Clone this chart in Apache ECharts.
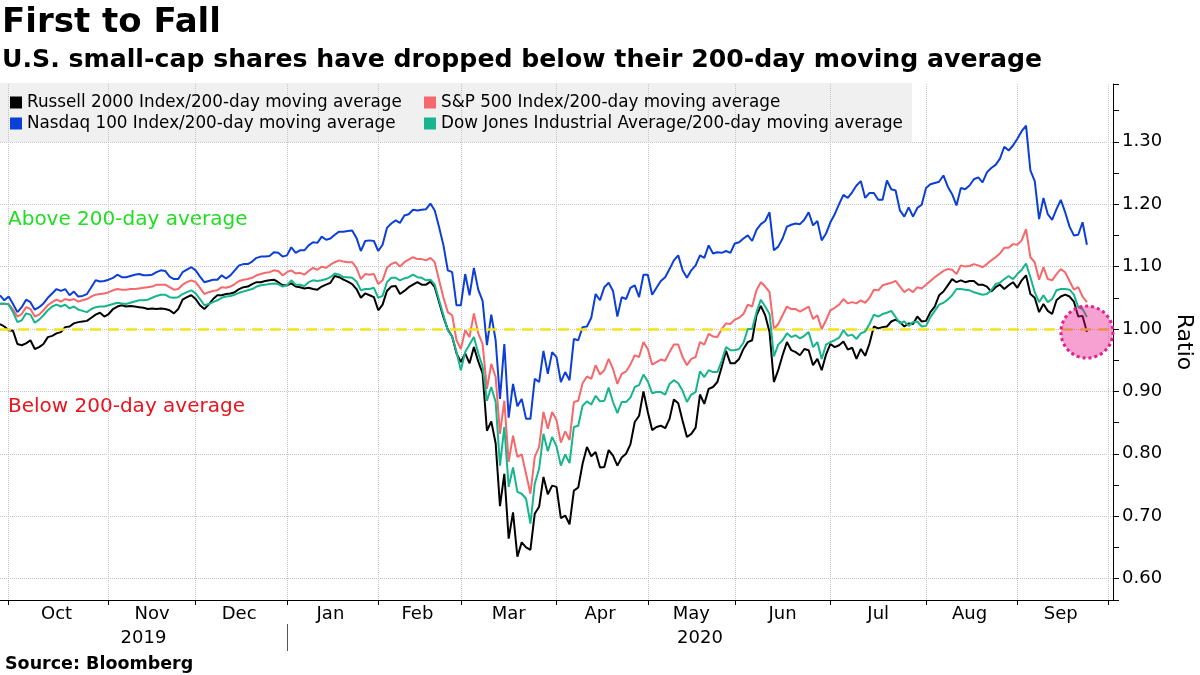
<!DOCTYPE html>
<html><head><meta charset="utf-8">
<script src="https://cdn.jsdelivr.net/npm/echarts@6/dist/echarts.min.js"></script>
<style>html,body{margin:0;padding:0;background:#fff}#c{width:1200px;height:675px}</style>
</head><body><div id="c"></div>
<script>
// ---- axis / calendar data ----
const startDate = '2019-09-27';
const endDate = '2020-10-02';
const holidays = ['2019-11-28','2019-12-25','2020-01-01','2020-01-20','2020-02-17','2020-04-10','2020-05-25','2020-07-03','2020-09-07'];
const monthNames = ['Jan','Feb','Mar','Apr','May','Jun','Jul','Aug','Sep','Oct','Nov','Dec'];
const yTickLabels = ['0.60','0.70','0.80','0.90','1.00','1.10','1.20','1.30'];
const threshold = 1.0;

// ---- series values (ratio of index to its 200-day moving average), one per trading day from 2019-09-27 ----
const russell = [
1.008,1.004,0.998,0.997,0.976,0.974,0.977,0.982,0.968,0.971,
0.976,0.987,0.989,0.993,0.995,1.003,1.004,1.009,1.011,1.012,
1.013,1.018,1.023,1.026,1.020,1.024,1.032,1.036,1.038,1.036,
1.037,1.036,1.035,1.034,1.032,1.033,1.032,1.033,1.032,1.030,
1.025,1.032,1.047,1.051,1.054,1.048,1.038,1.032,1.039,1.048,
1.054,1.054,1.056,1.057,1.059,1.064,1.067,1.068,1.072,1.075,
1.075,1.077,1.078,1.079,1.075,1.070,1.070,1.073,1.068,1.067,
1.065,1.066,1.064,1.063,1.068,1.071,1.074,1.085,1.083,1.079,
1.076,1.072,1.064,1.050,1.057,1.054,1.051,1.030,1.039,1.061,
1.068,1.069,1.056,1.061,1.067,1.071,1.075,1.071,1.071,1.076,
1.067,1.043,1.019,0.999,0.988,0.961,0.947,0.961,0.945,0.971,
0.948,0.929,0.837,0.852,0.817,0.716,0.768,0.664,0.706,0.635,
0.658,0.650,0.646,0.704,0.715,0.763,0.735,0.749,0.747,0.697,
0.701,0.687,0.741,0.746,0.784,0.811,0.796,0.803,0.778,0.779,
0.806,0.797,0.781,0.794,0.800,0.815,0.851,0.861,0.900,0.867,
0.838,0.843,0.845,0.841,0.856,0.887,0.881,0.853,0.827,0.832,
0.842,0.895,0.880,0.904,0.907,0.915,0.939,0.965,0.945,0.945,
0.952,0.968,0.979,0.982,1.022,1.037,1.022,0.995,0.915,0.934,
0.958,0.979,0.966,0.963,0.958,0.968,0.966,0.942,0.952,0.934,
0.959,0.976,0.971,0.974,0.980,0.967,0.970,0.952,0.968,0.957,
0.977,1.004,1.001,1.003,1.004,1.012,1.015,1.011,1.004,1.009,
1.008,1.020,1.012,1.013,1.027,1.036,1.054,1.060,1.070,1.080,
1.075,1.078,1.075,1.077,1.077,1.071,1.071,1.068,1.060,1.067,
1.071,1.064,1.070,1.075,1.066,1.078,1.086,1.056,1.050,1.027,
1.040,1.029,1.024,1.046,1.052,1.055,1.052,1.044,1.020,1.021,0.995];

const sp500 = [
1.041,1.040,1.040,1.031,1.020,1.024,1.035,1.032,1.020,1.023,
1.030,1.038,1.043,1.047,1.044,1.048,1.046,1.048,1.044,1.046,
1.048,1.052,1.055,1.056,1.057,1.059,1.062,1.064,1.063,1.063,
1.064,1.064,1.065,1.066,1.067,1.068,1.071,1.071,1.071,1.067,
1.063,1.064,1.071,1.075,1.078,1.075,1.066,1.056,1.059,1.061,
1.062,1.067,1.066,1.068,1.072,1.077,1.079,1.080,1.082,1.086,
1.088,1.090,1.091,1.094,1.093,1.086,1.091,1.094,1.089,1.090,
1.087,1.093,1.098,1.095,1.100,1.098,1.103,1.107,1.110,1.108,
1.107,1.107,1.098,1.080,1.088,1.087,1.088,1.072,1.078,1.098,
1.104,1.107,1.100,1.107,1.111,1.115,1.112,1.112,1.110,1.114,
1.107,1.078,1.050,1.027,1.022,0.982,0.968,0.998,0.987,1.025,
0.993,0.976,0.904,0.944,0.923,0.832,0.885,0.787,0.829,0.795,
0.799,0.768,0.736,0.795,0.811,0.867,0.840,0.867,0.854,0.818,
0.836,0.822,0.883,0.885,0.913,0.924,0.920,0.942,0.927,0.934,
0.952,0.936,0.912,0.928,0.932,0.943,0.958,0.955,0.979,0.968,
0.943,0.947,0.951,0.949,0.963,0.975,0.975,0.955,0.942,0.952,
0.955,0.979,0.975,0.992,0.988,0.987,1.000,1.009,1.008,1.015,
1.018,1.024,1.039,1.036,1.062,1.075,1.068,1.059,1.000,1.008,
1.022,1.036,1.032,1.032,1.028,1.032,1.036,1.016,1.022,1.000,
1.014,1.030,1.034,1.039,1.048,1.041,1.043,1.041,1.046,1.042,
1.050,1.063,1.062,1.070,1.072,1.074,1.077,1.068,1.059,1.064,
1.059,1.067,1.065,1.071,1.077,1.083,1.088,1.093,1.096,1.095,
1.088,1.102,1.100,1.101,1.104,1.102,1.099,1.104,1.110,1.115,
1.121,1.130,1.130,1.136,1.135,1.142,1.160,1.115,1.107,1.079,
1.099,1.080,1.078,1.088,1.096,1.091,1.077,1.063,1.067,1.052,1.043];

const nasdaq100 = [
1.054,1.046,1.052,1.040,1.027,1.035,1.047,1.043,1.031,1.035,
1.041,1.050,1.057,1.064,1.061,1.064,1.054,1.060,1.052,1.053,
1.056,1.067,1.078,1.076,1.077,1.079,1.082,1.087,1.083,1.083,
1.085,1.087,1.088,1.086,1.086,1.087,1.091,1.094,1.093,1.084,
1.080,1.080,1.091,1.095,1.099,1.094,1.084,1.075,1.077,1.079,
1.079,1.086,1.081,1.086,1.094,1.102,1.104,1.104,1.108,1.114,
1.116,1.116,1.117,1.123,1.122,1.116,1.118,1.131,1.122,1.126,
1.126,1.134,1.139,1.138,1.148,1.143,1.145,1.151,1.156,1.156,
1.157,1.158,1.146,1.125,1.141,1.142,1.141,1.125,1.135,1.162,
1.169,1.174,1.170,1.182,1.184,1.191,1.190,1.191,1.192,1.201,
1.190,1.163,1.134,1.094,1.091,1.038,1.038,1.088,1.054,1.098,
1.063,1.045,0.974,1.023,0.982,0.888,0.976,0.858,0.912,0.876,
0.888,0.856,0.856,0.920,0.915,0.965,0.928,0.963,0.955,0.915,
0.931,0.918,0.984,0.982,1.003,1.004,1.018,1.056,1.046,1.067,
1.074,1.061,1.020,1.051,1.048,1.066,1.070,1.051,1.087,1.087,
1.055,1.066,1.077,1.083,1.096,1.110,1.118,1.094,1.082,1.094,
1.102,1.118,1.114,1.134,1.121,1.123,1.122,1.125,1.122,1.137,
1.139,1.145,1.150,1.141,1.159,1.168,1.173,1.187,1.126,1.132,
1.145,1.164,1.167,1.169,1.168,1.175,1.187,1.166,1.173,1.142,
1.153,1.171,1.184,1.200,1.215,1.210,1.219,1.230,1.237,1.210,
1.218,1.218,1.207,1.207,1.238,1.224,1.222,1.190,1.180,1.195,
1.180,1.194,1.199,1.226,1.232,1.234,1.236,1.246,1.228,1.216,
1.198,1.226,1.224,1.230,1.240,1.243,1.235,1.251,1.258,1.263,
1.273,1.292,1.286,1.294,1.305,1.317,1.326,1.254,1.237,1.176,
1.210,1.184,1.175,1.192,1.207,1.187,1.164,1.150,1.151,1.171,1.135];

const dow = [
1.040,1.041,1.039,1.027,1.011,1.014,1.025,1.023,1.010,1.015,
1.022,1.030,1.036,1.039,1.036,1.039,1.033,1.036,1.031,1.029,
1.027,1.032,1.035,1.036,1.036,1.038,1.040,1.042,1.041,1.040,
1.042,1.044,1.046,1.046,1.047,1.050,1.053,1.055,1.055,1.051,
1.050,1.051,1.056,1.059,1.062,1.057,1.048,1.038,1.040,1.043,
1.046,1.050,1.052,1.053,1.055,1.058,1.060,1.062,1.064,1.068,
1.070,1.071,1.072,1.073,1.072,1.068,1.070,1.078,1.071,1.071,
1.069,1.075,1.078,1.077,1.078,1.080,1.083,1.089,1.087,1.083,
1.083,1.082,1.076,1.062,1.064,1.064,1.066,1.050,1.053,1.075,
1.082,1.082,1.078,1.081,1.083,1.087,1.083,1.082,1.078,1.079,
1.071,1.046,1.022,0.998,0.988,0.963,0.934,0.963,0.975,0.987,
0.961,0.940,0.885,0.907,0.883,0.781,0.843,0.747,0.778,0.739,
0.736,0.728,0.688,0.752,0.776,0.832,0.804,0.827,0.812,0.781,
0.799,0.785,0.843,0.845,0.877,0.884,0.879,0.893,0.884,0.885,
0.906,0.883,0.865,0.883,0.883,0.890,0.907,0.910,0.927,0.916,
0.897,0.899,0.899,0.895,0.912,0.918,0.913,0.901,0.883,0.895,
0.899,0.932,0.923,0.934,0.931,0.931,0.949,0.971,0.966,0.966,
0.968,0.978,1.000,1.000,1.027,1.047,1.036,1.024,0.956,0.975,
0.982,0.993,0.987,0.990,0.985,0.989,0.995,0.971,0.979,0.952,
0.975,0.979,0.982,0.986,0.998,0.989,0.991,0.984,0.993,0.996,
1.008,1.023,1.020,1.024,1.026,1.029,1.019,1.009,1.012,1.005,
1.011,1.012,1.004,1.005,1.019,1.029,1.039,1.042,1.047,1.054,
1.064,1.064,1.063,1.062,1.059,1.057,1.055,1.056,1.062,1.072,
1.074,1.080,1.085,1.080,1.088,1.095,1.105,1.083,1.059,1.043,
1.054,1.043,1.048,1.062,1.064,1.064,1.063,1.055,1.035,1.032,1.019];

const seriesNames = ['Russell 2000 Index/200-day moving average','S&P 500 Index/200-day moving average','Nasdaq 100 Index/200-day moving average','Dow Jones Industrial Average/200-day moving average'];
const seriesColors = ['#000000','#f5686b','#0b3fd6','#17b58c'];

// ---- trading-day categories ----
const dates = [];
for (let d = new Date(startDate + 'T00:00:00Z'); d <= new Date(endDate + 'T00:00:00Z'); d.setUTCDate(d.getUTCDate() + 1)) {
  const wd = d.getUTCDay();
  const s = d.toISOString().slice(0, 10);
  if (wd === 0 || wd === 6 || holidays.includes(s)) continue;
  dates.push(s);
}
const monthStart = new Set();
const groups = [];
dates.forEach((s, i) => {
  const key = s.slice(0, 7);
  if (i > 0 && key !== dates[i - 1].slice(0, 7)) monthStart.add(i);
  if (!groups.length || groups[groups.length - 1].key !== key) groups.push({ key, first: i, len: 0 });
  groups[groups.length - 1].len++;
});
const monthLabelIdx = new Set(groups.filter(g => g.len >= 15).map(g => g.first + Math.floor(g.len / 2)));
const yearGroups = [];
dates.forEach((s, i) => {
  const y = s.slice(0, 4);
  if (!yearGroups.length || yearGroups[yearGroups.length - 1].y !== y) yearGroups.push({ y, first: i, len: 0 });
  yearGroups[yearGroups.length - 1].len++;
});
const yearLabelIdx = new Set(yearGroups.map(g => g.first + Math.floor(g.len / 2)));
const yearBreakIdx = new Set(yearGroups.slice(1).map(g => g.first));

const FONT = 'DejaVu Sans';
const chart = echarts.init(document.getElementById('c'), null, { renderer: 'canvas' });
const yMin = 0.5657, yMax = 1.3926;
const allSeries = [russell, sp500, nasdaq100, dow];
const last = russell.length - 1;

const option = {
  animation: false,
  backgroundColor: '#ffffff',
  textStyle: { fontFamily: FONT },
  grid: { left: 0, right: 87, top: 84, bottom: 75, containLabel: false, outerBoundsMode: 'none' },
  legend: [
    { data: [seriesNames[0], seriesNames[2]], orient: 'vertical', left: 10, top: 94, padding: 0, itemGap: 4,
      itemWidth: 12, itemHeight: 12, icon: 'rect', selectedMode: false,
      textStyle: { fontSize: 16.8, color: '#000', fontFamily: FONT, lineHeight: 16 } },
    { data: [seriesNames[1], seriesNames[3]], orient: 'vertical', left: 424, top: 94, padding: 0, itemGap: 4,
      itemWidth: 12, itemHeight: 12, icon: 'rect', selectedMode: false,
      textStyle: { fontSize: 16.8, color: '#000', fontFamily: FONT, lineHeight: 16 } }
  ],
  xAxis: [
    { type: 'category', data: dates, boundaryGap: false,
      axisLine: { show: true, lineStyle: { color: '#000', width: 1 } },
      axisTick: { show: true, interval: (i) => monthStart.has(i), length: 5, lineStyle: { color: '#000' } },
      axisLabel: { interval: (i) => monthLabelIdx.has(i), formatter: (v) => monthNames[+v.slice(5, 7) - 1],
        fontSize: 18, color: '#000', margin: 5, fontFamily: FONT },
      splitLine: { show: true, interval: (i) => monthStart.has(i), lineStyle: { color: '#c4c4c4', type: 'dotted', width: 1 } } },
    { type: 'category', data: dates, boundaryGap: false, position: 'bottom', offset: 24,
      axisLine: { show: false },
      axisTick: { show: true, interval: (i) => yearBreakIdx.has(i), length: 27, lineStyle: { color: '#555', width: 1 } },
      axisLabel: { interval: (i) => yearLabelIdx.has(i), formatter: (v) => v.slice(0, 4),
        fontSize: 18, color: '#000', margin: 5, fontFamily: FONT },
      splitLine: { show: false } }
  ],
  yAxis: [
    { type: 'value', position: 'right', min: yMin, max: yMax, splitNumber: 8,
      axisLine: { show: true, lineStyle: { color: '#000', width: 1 } },
      axisTick: { show: false },
      axisLabel: { fontSize: 18, color: '#000', margin: 9, fontFamily: FONT,
        formatter: (v) => { const s = v.toFixed(2); return yTickLabels.includes(s) && Math.abs(v - +s) < 1e-6 ? s : ''; } },
      splitLine: { show: true, showMinLine: false, showMaxLine: false, lineStyle: { color: '#c4c4c4', type: 'dotted', width: 1 } },
      name: 'Ratio', nameLocation: 'middle', nameRotate: -90, nameGap: 60,
      nameTextStyle: { fontSize: 22, color: '#000', fontFamily: FONT } },
    { type: 'value', position: 'right', min: yMin, max: yMax, splitNumber: 16,
      axisLine: { show: false },
      axisTick: { show: true, length: 6, lineStyle: { color: '#000' } },
      axisLabel: { show: false }, splitLine: { show: false } }
  ],
  graphic: [
    { type: 'rect', z: -10, shape: { x: 0, y: 83, width: 912, height: 59 }, style: { fill: '#f0f0f0' }, silent: true },
    { type: 'text', left: 2, top: 6, style: { text: 'First to Fall', font: 'bold 34px "DejaVu Sans"', fill: '#000' } },
    { type: 'text', left: 2, top: 48, style: { text: 'U.S. small-cap shares have dropped below their 200-day moving average', font: 'bold 25.2px "DejaVu Sans"', fill: '#000' } },
    { type: 'text', left: 5, top: 655, style: { text: 'Source: Bloomberg', font: 'bold 17.5px "DejaVu Sans"', fill: '#000' } },
    { type: 'text', left: 8, top: 210, style: { text: 'Above 200-day average', font: '20px "DejaVu Sans"', fill: '#22dd22' } },
    { type: 'text', left: 8, top: 397, style: { text: 'Below 200-day average', font: '20px "DejaVu Sans"', fill: '#e8141e' } }
  ],
  series: [
    ...allSeries.map((arr, k) => ({
      name: seriesNames[k], type: 'line', data: arr, showSymbol: false, symbol: 'none',
      color: seriesColors[k], lineStyle: { color: seriesColors[k], width: 2 }, z: 2 + k,
      markLine: k === 3 ? { silent: true, symbol: ['none', 'none'], label: { show: false },
        lineStyle: { color: '#f2e41a', width: 2.5, type: [11, 7] }, data: [{ yAxis: threshold }] } : undefined
    })),
    { name: 'highlight', type: 'scatter', z: 20, silent: true,
      data: [[dates[last], russell[last]]], symbol: 'circle', symbolSize: 52,
      itemStyle: { color: 'rgba(232,20,140,0.4)', borderColor: '#e0208e', borderWidth: 3, borderType: 'dotted', opacity: 1 } }
  ]
};
chart.setOption(option);
</script>
</body></html>
